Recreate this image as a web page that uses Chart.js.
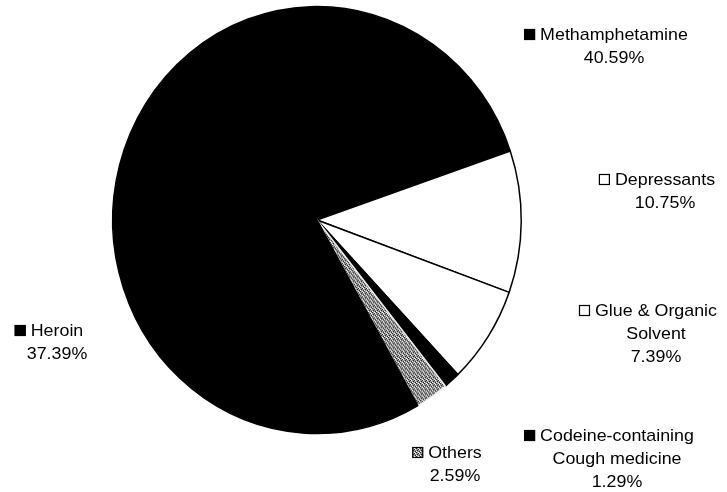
<!DOCTYPE html>
<html>
<head>
<meta charset="utf-8">
<script src="https://cdn.jsdelivr.net/npm/chart.js@4.4.1/dist/chart.umd.min.js"></script>
<style>
  html, body { margin: 0; padding: 0; background: #fff; }
  canvas { display: block; }
</style>
</head>
<body>
<canvas id="drugChart" width="727" height="492"></canvas>
<script>
const categories = ['Methamphetamine', 'Depressants', 'Glue & Organic Solvent', 'Codeine-containing Cough medicine', 'Others', 'Heroin'];
const shares = [40.59, 10.75, 7.39, 1.29, 2.59, 37.39];
const labelLines = [
  ['Methamphetamine'],
  ['Depressants'],
  ['Glue & Organic', 'Solvent'],
  ['Codeine-containing', 'Cough medicine'],
  ['Others'],
  ['Heroin']
];

// stippled grey fill for the "Others" wedge
function makeStipple() {
  const c = document.createElement('canvas');
  c.width = 4; c.height = 4;
  const g = c.getContext('2d');
  g.fillStyle = '#9a9a9a';
  g.fillRect(0, 0, 4, 4);
  g.fillStyle = '#222';
  [[0, 0], [2, 1], [1, 2], [3, 3]].forEach(([x, y]) => g.fillRect(x, y, 1, 1));
  g.fillStyle = '#fff';
  [[2, 0], [0, 3], [3, 1]].forEach(([x, y]) => g.fillRect(x, y, 1, 1));
  return g.createPattern(c, 'repeat');
}

const ctx = document.getElementById('drugChart').getContext('2d');
const stipple = makeStipple();
const fills = ['#000', '#fff', '#fff', '#000', stipple, '#000'];
const edges = ['#000', '#000', '#000', '#000', '#eee', '#000'];

// the printed pie is a touch taller than wide
const stretchY = 1.045;
// and the type a touch wider than plain Arial
const textWiden = 1.05;

const stretchPlugin = {
  id: 'stretch',
  beforeDatasetsDraw(chart) {
    const arc = chart.getDatasetMeta(0).data[0];
    const c = chart.ctx;
    c.save();
    c.translate(arc.x, arc.y);
    c.scale(1, stretchY);
    c.translate(-arc.x, -arc.y);
  },
  afterDatasetsDraw(chart) {
    chart.ctx.restore();
  }
};

const calloutPlugin = {
  id: 'callouts',
  afterDraw(chart, args, opts) {
    const c = chart.ctx;
    c.save();
    c.font = '17px "Liberation Sans", Arial, sans-serif';
    c.textAlign = 'center';
    c.textBaseline = 'alphabetic';
    shares.forEach((v, i) => {
      const [cx, y0] = opts.anchors[i];
      const lines = labelLines[i].concat([v.toFixed(2) + '%']);
      c.fillStyle = '#000';
      lines.forEach((t, k) => {
        c.save();
        c.translate(cx, y0 + k * opts.lineGap);
        c.scale(textWiden, 1);
        c.fillText(t, 0, 0);
        c.restore();
      });
      // legend key in front of the first line
      const w = c.measureText(lines[0]).width * textWiden;
      const s = 11;
      const kx = cx - w / 2 - 5 - s;
      const ky = y0 - 11;
      c.fillStyle = fills[i];
      c.fillRect(kx, ky, s, s);
      c.lineWidth = 1.2;
      c.strokeStyle = '#000';
      c.strokeRect(kx + 0.5, ky + 0.5, s - 1, s - 1);
    });
    c.restore();
  }
};

new Chart(ctx, {
  type: 'pie',
  data: {
    labels: categories,
    datasets: [{
      data: shares,
      backgroundColor: fills,
      borderColor: edges,
      borderWidth: 1.5
    }]
  },
  options: {
    responsive: false,
    animation: false,
    rotation: -75,
    layout: { padding: { left: 112, right: 205, top: 15, bottom: 67 } },
    plugins: {
      legend: { display: false },
      tooltip: { enabled: false },
      callouts: {
        lineGap: 23,
        anchors: [[614, 40], [665, 185], [656, 316], [617, 441], [455, 458], [57, 336]]
      }
    }
  },
  plugins: [stretchPlugin, calloutPlugin]
});
</script>
</body>
</html>
